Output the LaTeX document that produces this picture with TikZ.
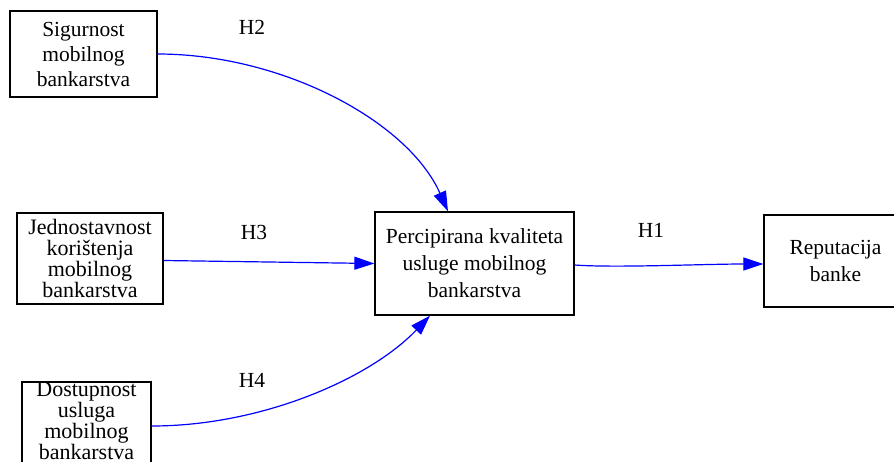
\documentclass[tikz,border=0pt]{standalone}
\usepackage{fontspec}
\setmainfont{Liberation Serif}
\usetikzlibrary{arrows.meta}
\begin{document}
\begin{tikzpicture}[x=1pt,y=-1pt,
  box/.style={draw=black, line width=1.3pt, inner sep=0pt, align=center, anchor=center},
  edge/.style={draw=blue, line width=1.2pt, -{Triangle[length=20pt,width=13pt]}},
  lbl/.style={inner sep=0pt, font=\fontsize{21.5}{25}\selectfont}]
\useasboundingbox (0,0) rectangle (894,461);
\node[box, minimum width=147pt, minimum height=86pt, font=\fontsize{21.5}{25}\selectfont] (sig) at (83.5,54) {Sigurnost\\mobilnog\\bankarstva};
\node[box, minimum width=146pt, minimum height=91pt, font=\fontsize{22}{21}\selectfont] (jed) at (90,258.5) {Jednostavnost\\korištenja\\mobilnog\\bankarstva};
\node[box, minimum width=129pt, minimum height=84pt, text depth=6pt, font=\fontsize{22}{18.5}\selectfont] (dos) at (86.5,424) {Dostupnost\\usluga\\mobilnog\\bankarstva};
\node[box, minimum width=199pt, minimum height=103pt, font=\fontsize{21.5}{27}\selectfont] (per) at (474.5,263.5) {Percipirana kvaliteta\\usluge mobilnog\\bankarstva};
\node[box, minimum width=143pt, minimum height=92pt, font=\fontsize{21.5}{27}\selectfont] (rep) at (835.5,261) {Reputacija\\banke};
\draw[edge] (sig.east) .. controls +(125,0) and +(-40,-90) .. ([xshift=-26.5pt]per.north);
\draw[edge] ([yshift=-2pt]jed.east) -- ([yshift=0pt]per.west);
\draw[edge] ([yshift=-2pt]dos.east) .. controls +(110,0) and +(-60,63) .. ([xshift=-44.5pt]per.south);
\draw[edge] ([yshift=-1.5pt]per.east) .. controls +(40,3) and +(-60,0) .. ([yshift=-3pt]rep.west);
\node[lbl] (h2) at (252,27) {H2};
\node[lbl] (h3) at (254,232) {H3};
\node[lbl] (h4) at (252,380) {H4};
\node[lbl] (h1) at (651,230) {H1};
\end{tikzpicture}
\end{document}
